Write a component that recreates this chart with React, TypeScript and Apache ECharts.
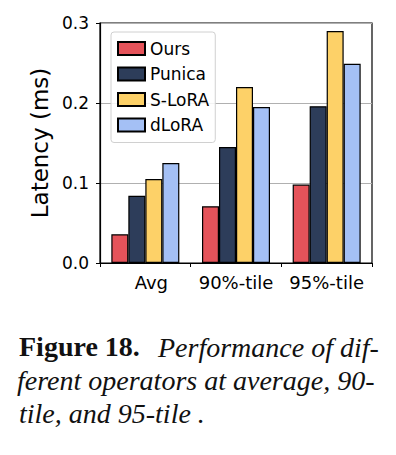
import React, { useEffect, useRef } from "react";
import * as echarts from "echarts";

const categories = ["Avg", "90%-tile", "95%-tile"];
const seriesNames = ["Ours", "Punica", "S-LoRA", "dLoRA"];
const oursValues = [0.036, 0.071, 0.098];
const punicaValues = [0.084, 0.145, 0.196];
const sloraValues = [0.105, 0.22, 0.29];
const dloraValues = [0.125, 0.195, 0.249];
const yTicks = [0, 0.1, 0.2, 0.3];
const colors = ["#e5535a", "#2d3d5a", "#fdd168", "#a4c0f5"];

export default function App() {
  const ref = useRef<HTMLDivElement>(null);
  useEffect(() => {
    if (!ref.current) return;
    const chart = echarts.init(ref.current, null, { renderer: "svg" });
    const values = [oursValues, punicaValues, sloraValues, dloraValues];
    const font = "'DejaVu Sans', sans-serif";
    const serif = "'Liberation Serif', serif";
    chart.setOption({
      animation: false,
      grid: {
        left: 100,
        right: 24,
        top: 23,
        bottom: 192,
        show: true,
        borderColor: "#000",
        borderWidth: 1.2,
      },
      legend: {
        orient: "vertical",
        left: 111,
        top: 32,
        padding: [8, 6, 9, 6],
        itemWidth: 27,
        itemHeight: 13,
        itemGap: 8.5,
        itemTextGap: 2,
        backgroundColor: "rgba(255,255,255,0.85)",
        borderColor: "#d0d0d0",
        borderWidth: 1,
        borderRadius: 3,
        icon: "rect",
        textStyle: { fontFamily: font, fontSize: 17, color: "#000", lineHeight: 13 },
        data: seriesNames,
      },
      xAxis: {
        type: "category",
        data: categories,
        axisLine: { lineStyle: { color: "#000", width: 1.2 } },
        axisTick: { show: true, length: 4, lineStyle: { color: "#000", width: 1 } },
        axisLabel: {
          interval: 0,
          fontFamily: font,
          fontSize: 18,
          color: "#000",
          margin: 10,
          formatter: (v: string) => (v === "Avg" ? "{a|" + v + "}" : v),
          rich: { a: { fontFamily: font, fontSize: 18, color: "#000", padding: [0, 0, 0, 12] } },
        },
      },
      yAxis: {
        type: "value",
        min: yTicks[0],
        max: yTicks[yTicks.length - 1],
        interval: 0.1,
        name: "Latency (ms)",
        nameLocation: "middle",
        nameGap: 47,
        nameTextStyle: { fontFamily: font, fontSize: 23, color: "#000" },
        axisLine: { show: true, lineStyle: { color: "#000", width: 1.2 } },
        axisTick: { show: true, length: 4, lineStyle: { color: "#000", width: 1 } },
        axisLabel: {
          fontFamily: font,
          fontSize: 17,
          color: "#000",
          margin: 11,
          formatter: (v: number) => v.toFixed(1),
        },
        splitLine: { show: true, lineStyle: { color: "#b0b0b0", width: 1 } },
      },
      series: seriesNames.map((name, i) => ({
        name,
        type: "bar",
        data: values[i],
        barWidth: 17,
        barGap: "0%",
        itemStyle: { color: colors[i], borderColor: "#000", borderWidth: 1.2 },
      })),
      graphic: [
        {
          type: "text",
          left: 19,
          top: 332,
          style: { text: "Figure 18.", font: "bold 28px " + serif, fill: "#111" },
        },
        {
          type: "text",
          left: 158,
          top: 333,
          style: { text: "Performance of dif-", font: "italic 28px " + serif, fill: "#111" },
        },
        {
          type: "text",
          left: 17,
          top: 366,
          style: { text: "ferent operators at average, 90-", font: "italic 28px " + serif, fill: "#111" },
        },
        {
          type: "text",
          left: 19,
          top: 399,
          style: { text: "tile, and 95-tile .", font: "italic 28px " + serif, fill: "#111" },
        },
      ],
    });
    return () => chart.dispose();
  }, []);
  return (
    <div
      ref={ref}
      style={{ position: "fixed", left: 0, top: 0, width: 396, height: 455, background: "#fff" }}
    />
  );
}
